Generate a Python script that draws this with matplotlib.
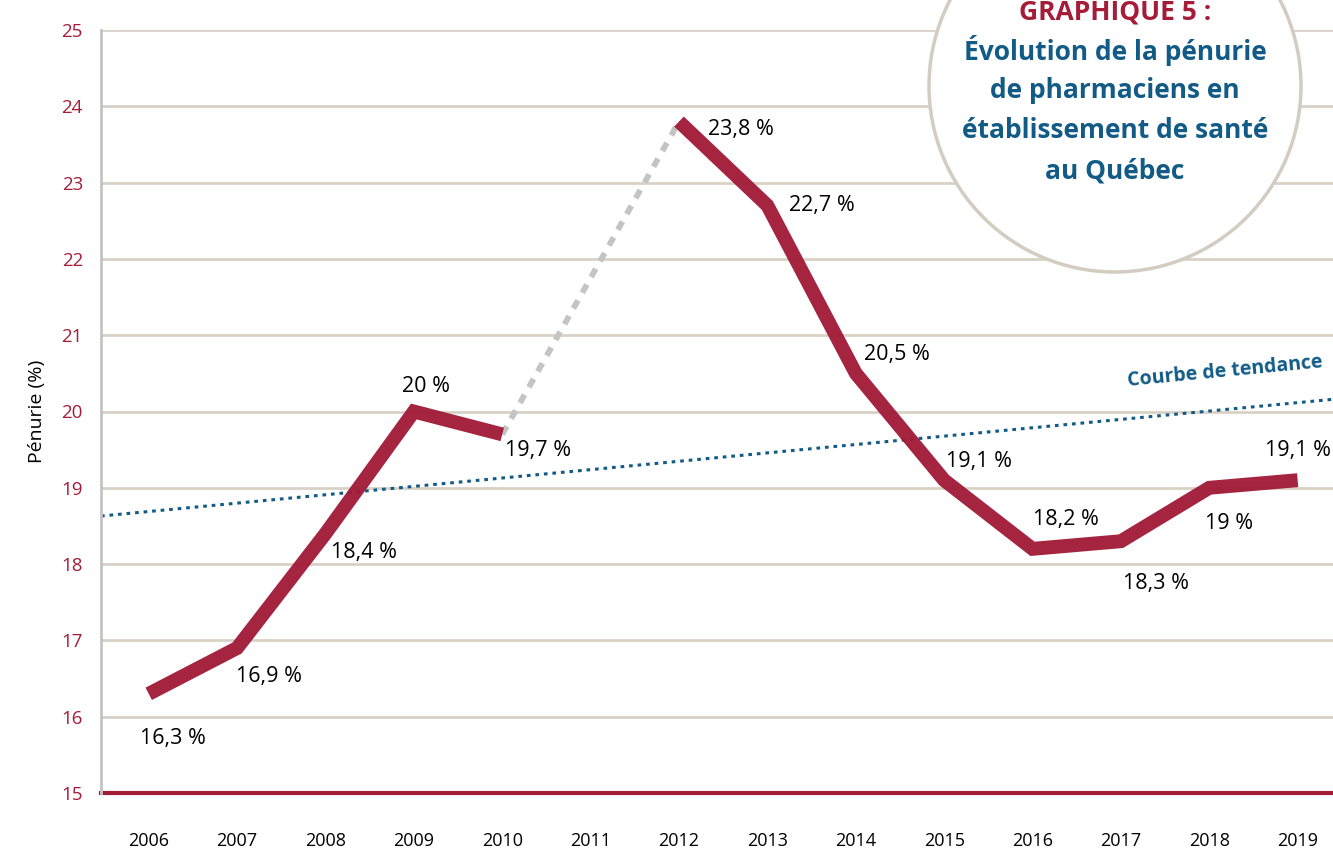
import matplotlib
matplotlib.use('Agg')
import matplotlib.pyplot as plt
from matplotlib.patches import Ellipse

# --- Data ---
years = [2006, 2007, 2008, 2009, 2010, 2011, 2012, 2013, 2014, 2015, 2016, 2017, 2018, 2019]
first_years = [2006, 2007, 2008, 2009, 2010]
first_values = [16.3, 16.9, 18.4, 20.0, 19.7]
gap_years = [2010, 2012]
gap_values = [19.7, 23.8]
second_years = [2012, 2013, 2014, 2015, 2016, 2017, 2018, 2019]
second_values = [23.8, 22.7, 20.5, 19.1, 18.2, 18.3, 19.0, 19.1]
trend_x = [2005.46, 2019.4]
trend_y = [18.63, 20.16]

labels = ['16,3 %', '16,9 %', '18,4 %', '20 %', '19,7 %',
          '23,8 %', '22,7 %', '20,5 %', '19,1 %', '18,2 %', '18,3 %', '19 %', '19,1 %']
label_years = first_years + second_years
label_values = first_values + second_values
# label offsets in pixels (dx, dy)
label_offsets = [(24, -45), (32, -28), (39, -19), (12, 25), (36, -16),
                 (62, -8), (54, 0), (41, 19), (35, 19), (33, 29), (35, -42), (20, -36), (0, 30)]

red = '#a51c38'
blue = '#125b86'
grid_col = '#d8d2c6'

plt.rcParams['font.family'] = ['Open Sans', 'DejaVu Sans']

fig = plt.figure(figsize=(13.33, 8.5), dpi=100)
ax = fig.add_axes([101 / 1333, 1 - 793 / 850, 1 - 101 / 1333, (793 - 30) / 850])

ax.set_xlim(2005.46, 2019.4)
ax.set_ylim(15, 25)
ax.set_yticks(range(15, 26))
ax.set_xticks(years)
ax.set_xticklabels([str(y) for y in years])

for v in range(16, 26):
    ax.axhline(v, color=grid_col, lw=2, zorder=0)
ax.axhline(15, color=red, lw=3, zorder=1, clip_on=False)

for s in ['top', 'right', 'bottom']:
    ax.spines[s].set_visible(False)
ax.spines['left'].set_color('#c4c4c4')
ax.spines['left'].set_linewidth(2)

ax.tick_params(axis='both', length=0)
ax.tick_params(axis='y', colors=red, labelsize=13.5, pad=13)
ax.tick_params(axis='x', colors='black', labelsize=13, pad=28)
ax.set_ylabel('Pénurie (%)', fontsize=14, labelpad=11)

# Trend line
ax.plot(trend_x, trend_y, color=blue, lw=2.2, linestyle=(0, (1.2, 1.6)), zorder=2)
ax.text(2018.18, 20.52, 'Courbe de tendance', color=blue, fontsize=14, fontweight='bold',
        rotation=5.5, ha='center', va='center', zorder=3)

# Gap line
ax.plot(gap_years, gap_values, color='#c4c4c4', lw=4.2, linestyle=(0, (1.6, 1.5)), zorder=2)

# Main series
for xs, ys in [(first_years, first_values), (second_years, second_values)]:
    ax.plot(xs, ys, color='#a01835', lw=10, alpha=0.95, solid_capstyle='butt',
            solid_joinstyle='miter', zorder=4)

for x, y, t, off in zip(label_years, label_values, labels, label_offsets):
    ax.annotate(t, (x, y), xytext=off, textcoords='offset pixels', ha='center', va='center',
                fontsize=15.5, color='black', zorder=5)

# Title circle
circle = Ellipse((1115 / 1333, 1 - 86 / 850), 372 / 1333, 372 / 850, transform=fig.transFigure,
                 facecolor='white', edgecolor='#d3cdc1', lw=2.5, zorder=5)
fig.add_artist(circle)
fig.text(1115 / 1333, 1 - 12 / 850, 'GRAPHIQUE 5 :', color=red, fontsize=19, fontweight='bold',
         ha='center', va='center', zorder=6)
title_lines = ['Évolution de la pénurie', 'de pharmaciens en', 'établissement de santé', 'au Québec']
for i, line in enumerate(title_lines):
    fig.text(1115 / 1333, 1 - (51 + 40 * i) / 850, line, color=blue, fontsize=19,
             fontweight='bold', ha='center', va='center', zorder=6)

fig.savefig('out.png', dpi=100)
